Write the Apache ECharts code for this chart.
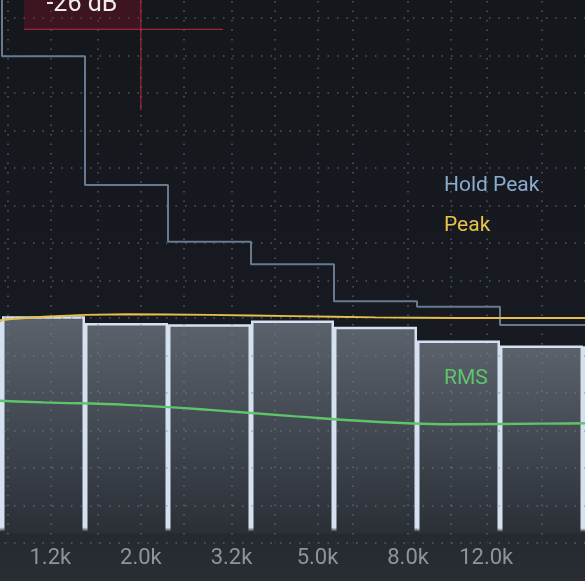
<!DOCTYPE html>
<html>
<head>
<meta charset="utf-8">
<script src="https://cdn.jsdelivr.net/npm/echarts@6/dist/echarts.min.js"></script>
<style>
html,body{margin:0;padding:0;background:#15181d;}
#c{width:585px;height:581px;}
</style>
</head>
<body>
<div id="c"></div>
<script>
// ---- data (dB levels per analyser band) ----
const bands = ['Band 0', 'Band 1', 'Band 2', 'Band 3', 'Band 4', 'Band 5', 'Band 6', 'Band 7', 'Band 8'];
const levelDb = [-72.5, -71.7, -72.8, -73.0, -72.4, -73.4, -75.6, -76.4, -76.5];
const holdPeakDb = [-18.0, -30.1, -50.7, -59.8, -63.4, -69.3, -70.2, -73.1, -73.1];
const peakDb = [-73.0, -71.8, -71.4, -71.5, -71.7, -71.9, -72.0, -72.0, -72.0];
const rmsDb = [-85.0, -85.5, -85.9, -86.7, -87.7, -88.6, -89.0, -88.9, -88.8];
const floorDb = -106.7;

// frequency scale (Hz)
const gridFreqs = [1000, 1250, 1600, 2000, 2500, 3200, 4000, 5000, 6000, 8000, 10000, 12000, 16000];
const tickFreqs = [1250, 2000, 3200, 5000, 8000, 12000];
const tickLabels = ['1.2k', '2.0k', '3.2k', '5.0k', '8.0k', '12.0k'];

// cursor readout
const cursorFreq = 2000;
const cursorDb = -25.8;

const chart = echarts.init(document.getElementById('c'));
const dotted = { type: [1.5, 8], color: 'rgba(125,131,141,0.6)', width: 1.5 };

const option = {
  animation: false,
  backgroundColor: new echarts.graphic.LinearGradient(0, 0, 0, 1, [
    { offset: 0, color: '#14171c' },
    { offset: 0.6, color: '#171a20' },
    { offset: 1, color: '#292d34' }
  ]),
  grid: [
    { left: -81, right: -81, top: -132, bottom: 38, containLabel: false, outerBoundsMode: 'none' },
    { left: 7.3, right: 43.3, top: -132, bottom: 38, containLabel: false, outerBoundsMode: 'none' }
  ],
  xAxis: [
    {
      type: 'category', gridIndex: 0, data: bands, boundaryGap: true, z: 3,
      axisLine: { show: false }, axisTick: { show: false }, axisLabel: { show: false }, splitLine: { show: false }
    },
    {
      type: 'value', gridIndex: 1, min: Math.log10(gridFreqs[0]), max: Math.log10(gridFreqs[gridFreqs.length - 1]), z: 3,
      axisLine: { show: false },
      axisTick: { show: false, customValues: gridFreqs.map(f => Math.log10(f)) },
      axisLabel: {
        show: true, customValues: tickFreqs.map(f => Math.log10(f)),
        color: '#8e949c', fontSize: 22, fontFamily: 'Roboto', margin: 4,
        formatter: function (v) {
          for (let i = 0; i < tickFreqs.length; i++) {
            if (Math.abs(Math.log10(tickFreqs[i]) - v) < 1e-6) return tickLabels[i];
          }
          return '';
        }
      },
      splitLine: { show: true, lineStyle: dotted }
    }
  ],
  yAxis: [
    {
      type: 'value', gridIndex: 0, min: -108, max: 0, interval: 6, startValue: floorDb, z: 3,
      axisLine: { show: false }, axisTick: { show: false }, axisLabel: { show: false },
      splitLine: { show: true, lineStyle: dotted }
    },
    {
      type: 'value', gridIndex: 1, min: -108, max: 0, show: false, splitLine: { show: false }
    }
  ],
  series: [
    {
      name: 'Level', type: 'bar', xAxisIndex: 0, yAxisIndex: 0, data: levelDb,
      barCategoryGap: '0%', z: 2,
      itemStyle: {
        color: new echarts.graphic.LinearGradient(0, 0, 0, 1, [
          { offset: 0, color: '#5b626c' },
          { offset: 1, color: '#2a2f36' }
        ]),
        borderColor: new echarts.graphic.LinearGradient(0, 0, 0, 1, [
          { offset: 0, color: '#d5e1f1' },
          { offset: 0.965, color: '#d5e1f1' },
          { offset: 0.985, color: 'rgba(213,225,241,0)' },
          { offset: 1, color: 'rgba(213,225,241,0)' }
        ]),
        borderWidth: 2.5
      }
    },
    {
      name: 'Hold Peak', type: 'line', xAxisIndex: 0, yAxisIndex: 0, data: holdPeakDb,
      step: 'middle', symbol: 'none', z: 5,
      lineStyle: { color: '#687a90', width: 2 }
    },
    {
      name: 'Peak', type: 'line', xAxisIndex: 0, yAxisIndex: 0, data: peakDb,
      smooth: 0.4, symbol: 'none', z: 6,
      lineStyle: { color: '#e6c04a', width: 2 }
    },
    {
      name: 'RMS', type: 'line', xAxisIndex: 0, yAxisIndex: 0, data: rmsDb,
      smooth: 0.4, symbol: 'none', z: 6,
      lineStyle: { color: '#5ec46a', width: 2.5 }
    }
  ]
};
chart.setOption(option);

const cx = chart.convertToPixel({ xAxisIndex: 1 }, Math.log10(cursorFreq));
const cy = chart.convertToPixel({ yAxisIndex: 0 }, cursorDb);

chart.setOption({
  graphic: [
    { type: 'rect', z: 50, shape: { x: cx - 117, y: cy - 60, width: 117, height: 60 },
      style: { fill: 'rgba(150,20,40,0.32)' } },
    { type: 'line', z: 51, shape: { x1: cx - 117, y1: cy, x2: cx + 82, y2: cy },
      style: { stroke: '#c2283d', lineWidth: 1 } },
    { type: 'line', z: 51, shape: { x1: cx, y1: cy - 60, x2: cx, y2: cy + 81 },
      style: { stroke: '#c2283d', lineWidth: 1 } },
    { type: 'text', z: 52, x: cx - 59, y: cy - 12,
      style: { text: Math.round(cursorDb) + ' dB', fill: '#f0ecee', font: '25px Roboto', align: 'center', verticalAlign: 'bottom' } },
    { type: 'text', z: 52, x: 444, y: 186,
      style: { text: 'Hold Peak', fill: '#8aaccf', font: '21px Roboto', align: 'left', verticalAlign: 'middle' } },
    { type: 'text', z: 52, x: 444, y: 226,
      style: { text: 'Peak', fill: '#e8c24a', font: '21px Roboto', align: 'left', verticalAlign: 'middle' } },
    { type: 'text', z: 52, x: 444, y: 379,
      style: { text: 'RMS', fill: '#5ec66a', font: '21px Roboto', align: 'left', verticalAlign: 'middle' } }
  ]
});
</script>
</body>
</html>
